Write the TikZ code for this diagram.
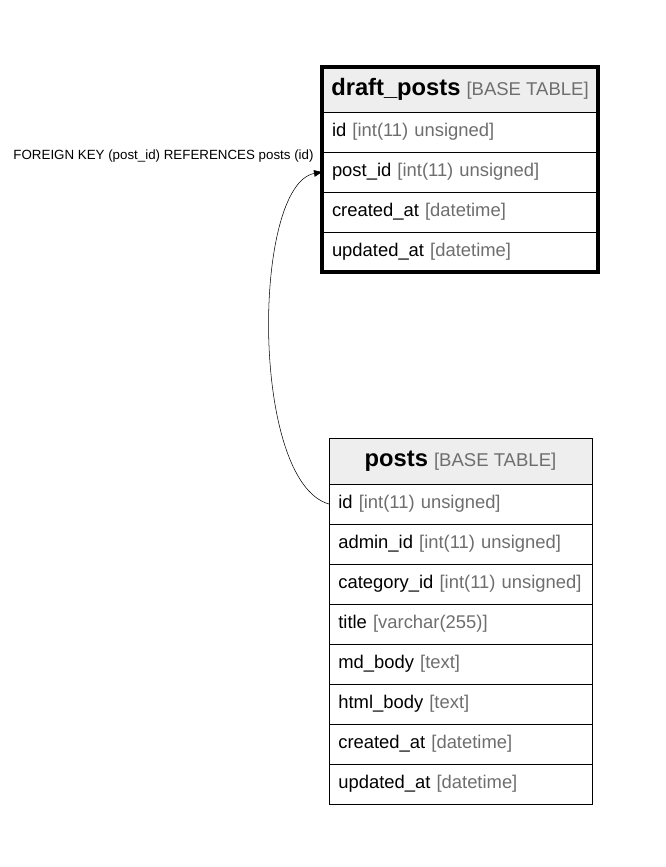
\documentclass[tikz,border=0pt]{standalone}
\usepackage{fontspec}
\setmainfont{Liberation Sans}
\usepackage{tikz}
\usetikzlibrary{arrows.meta, positioning, fit}
\definecolor{typegray}{RGB}{110,110,110}
\definecolor{headgray}{RGB}{238,238,238}

\begin{document}
\begin{tikzpicture}[
    x=0.75pt, y=-0.75pt,
    node distance=0pt,
    dphead/.style={rectangle, draw, fill=headgray, minimum width=207pt, minimum height=33.75pt, inner sep=0pt, outer sep=0pt, align=center},
    dprow/.style={rectangle, draw, fill=white, minimum width=207pt, minimum height=30pt, inner xsep=7.5pt, inner ysep=0pt, outer sep=0pt,
                  text width=192pt, align=left, font=\fontsize{13.8}{15}\selectfont},
    phead/.style={rectangle, draw, fill=headgray, minimum width=197.25pt, minimum height=34.5pt, inner sep=0pt, outer sep=0pt, align=center},
    prow/.style={rectangle, draw, fill=white, minimum width=197.25pt, minimum height=30pt, inner xsep=7pt, inner ysep=0pt, outer sep=0pt,
                 text width=183.25pt, align=left, font=\fontsize{13.8}{15}\selectfont},
    fk/.style={-{Triangle[length=6pt, width=5pt]}, thin, black}
]
\useasboundingbox (0,0) rectangle (665,867);

% draft_posts
\node[dphead] (dpHead) at (460,89.5) {{\fontsize{17.8}{20}\selectfont\bfseries draft\_posts}\hspace{4.5pt}{\fontsize{13.9}{15}\selectfont\color{typegray}[BASE TABLE]}};
\node[dprow, below=of dpHead] (dpId) {id \textcolor{typegray}{[int(11) unsigned]}};
\node[dprow, below=of dpId] (dpPostId) {post\_id \textcolor{typegray}{[int(11) unsigned]}};
\node[dprow, below=of dpPostId] (dpCreated) {created\_at \textcolor{typegray}{[datetime]}};
\node[dprow, below=of dpCreated] (dpUpdated) {updated\_at \textcolor{typegray}{[datetime]}};
\node[draw, line width=3pt, inner sep=0pt, fit=(dpHead) (dpUpdated)] (dpFrame) {};

% posts
\node[phead] (pHead) at (460.5,461) {{\fontsize{17.8}{20}\selectfont\bfseries posts}\hspace{4.5pt}{\fontsize{13.9}{15}\selectfont\color{typegray}[BASE TABLE]}};
\node[prow, below=of pHead] (pId) {id \textcolor{typegray}{[int(11) unsigned]}};
\node[prow, below=of pId] (pAdmin) {admin\_id \textcolor{typegray}{[int(11) unsigned]}};
\node[prow, below=of pAdmin] (pCategory) {\mbox{category\_id \textcolor{typegray}{[int(11) unsigned]}}};
\node[prow, below=of pCategory] (pTitle) {title \textcolor{typegray}{[varchar(255)]}};
\node[prow, below=of pTitle] (pMd) {md\_body \textcolor{typegray}{[text]}};
\node[prow, below=of pMd] (pHtml) {html\_body \textcolor{typegray}{[text]}};
\node[prow, below=of pHtml] (pCreated) {created\_at \textcolor{typegray}{[datetime]}};
\node[prow, below=of pCreated] (pUpdated) {updated\_at \textcolor{typegray}{[datetime]}};

% foreign key
\node[font=\fontsize{10}{12}\selectfont, inner sep=0pt] (fkLabel) at (163.5,156) {FOREIGN KEY (post\_id) REFERENCES posts (id)};
\draw[fk] (pId.west) .. controls (250,482) and (252,185) .. (dpPostId.west);

\end{tikzpicture}
\end{document}
